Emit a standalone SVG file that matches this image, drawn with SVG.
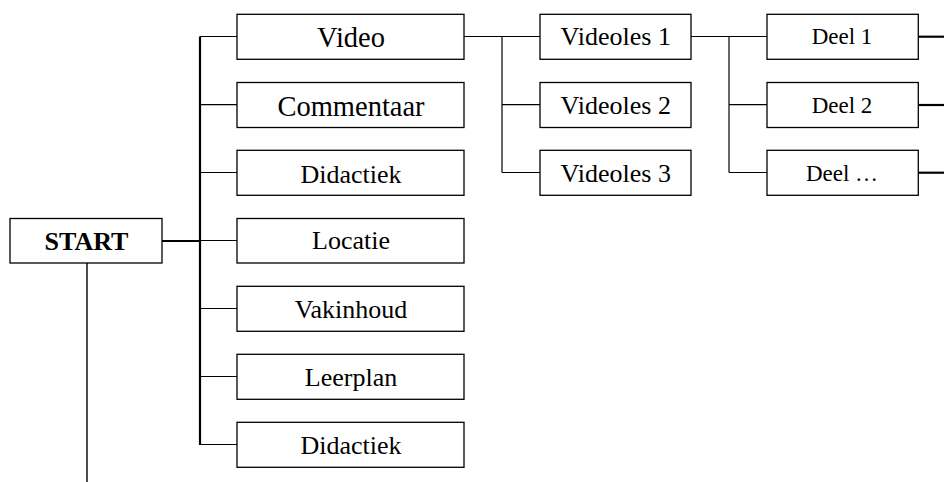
<svg xmlns="http://www.w3.org/2000/svg" width="944" height="482" viewBox="0 0 944 482">
<style>
rect{fill:#fff;stroke:#000;stroke-width:1.3}
text{font-family:"Liberation Serif","Times New Roman",serif;fill:#000;text-anchor:middle}
.l{font-size:28.5px}.m{font-size:26px}.s{font-size:23px}.b{font-size:26px;font-weight:bold}
.c line{stroke:#000;stroke-width:1.2}
.c .t{stroke-width:2.2}
</style>
<g class="c" id="connectors">
<line class="t" x1="162" y1="241" x2="200" y2="241"/>
<line class="t" x1="200" y1="36.5" x2="200" y2="445"/>
<line x1="200" y1="36.5" x2="237" y2="36.5"/>
<line x1="200" y1="104.7" x2="237" y2="104.7"/>
<line x1="200" y1="172.5" x2="237" y2="172.5"/>
<line x1="200" y1="240.5" x2="237" y2="240.5"/>
<line x1="200" y1="308.5" x2="237" y2="308.5"/>
<line x1="200" y1="376.5" x2="237" y2="376.5"/>
<line x1="200" y1="444.5" x2="237" y2="444.5"/>
<line x1="87" y1="263" x2="87" y2="482" style="stroke-width:1.4"/>
<line x1="464" y1="36.5" x2="540" y2="36.5"/>
<line x1="502" y1="36.5" x2="502" y2="172.5"/>
<line x1="502" y1="104.7" x2="540" y2="104.7"/>
<line x1="502" y1="172.5" x2="540" y2="172.5"/>
<line x1="691" y1="36.5" x2="767" y2="36.5"/>
<line x1="729" y1="36.5" x2="729" y2="172.5"/>
<line x1="729" y1="104.7" x2="767" y2="104.7"/>
<line x1="729" y1="172.5" x2="767" y2="172.5"/>
<line class="t" x1="918" y1="36.7" x2="944" y2="36.7"/>
<line class="t" x1="918" y1="105" x2="944" y2="105"/>
<line class="t" x1="918" y1="172.7" x2="944" y2="172.7"/>
</g>
<g id="start"><rect x="10" y="218.5" width="152" height="44.5"/><text class="b" x="86.5" y="249.5">START</text></g>
<g id="video"><rect x="237" y="14.3" width="227" height="45"/><text class="l" x="351" y="46.7">Video</text></g>
<g id="commentaar"><rect x="237" y="82.5" width="227" height="45"/><text class="l" x="351" y="116">Commentaar</text></g>
<g id="didactiek1"><rect x="237" y="150.3" width="227" height="45"/><text class="m" x="351" y="182.7">Didactiek</text></g>
<g id="locatie"><rect x="237" y="218.5" width="227" height="44.5"/><text class="m" x="351" y="249.3">Locatie</text></g>
<g id="vakinhoud"><rect x="237" y="286.3" width="227" height="45"/><text class="m" x="351" y="318">Vakinhoud</text></g>
<g id="leerplan"><rect x="237" y="354.3" width="227" height="45"/><text class="m" x="351" y="386">Leerplan</text></g>
<g id="didactiek2"><rect x="237" y="422.3" width="227" height="45"/><text class="m" x="351" y="454">Didactiek</text></g>
<g id="videoles1"><rect x="540" y="14.3" width="151" height="45"/><text class="m" x="615.8" y="45">Videoles 1</text></g>
<g id="videoles2"><rect x="540" y="82.5" width="151" height="45"/><text class="m" x="615.8" y="113.5">Videoles 2</text></g>
<g id="videoles3"><rect x="540" y="150.3" width="151" height="45"/><text class="m" x="615.8" y="181.5">Videoles 3</text></g>
<g id="deel1"><rect x="767" y="14.3" width="151.3" height="45"/><text class="s" x="842" y="44.3">Deel 1</text></g>
<g id="deel2"><rect x="767" y="82.5" width="151.3" height="45"/><text class="s" x="842" y="112.5">Deel 2</text></g>
<g id="deel3"><rect x="767" y="150.3" width="151.3" height="45"/><text class="s" x="842" y="180.5">Deel …</text></g>
</svg>
